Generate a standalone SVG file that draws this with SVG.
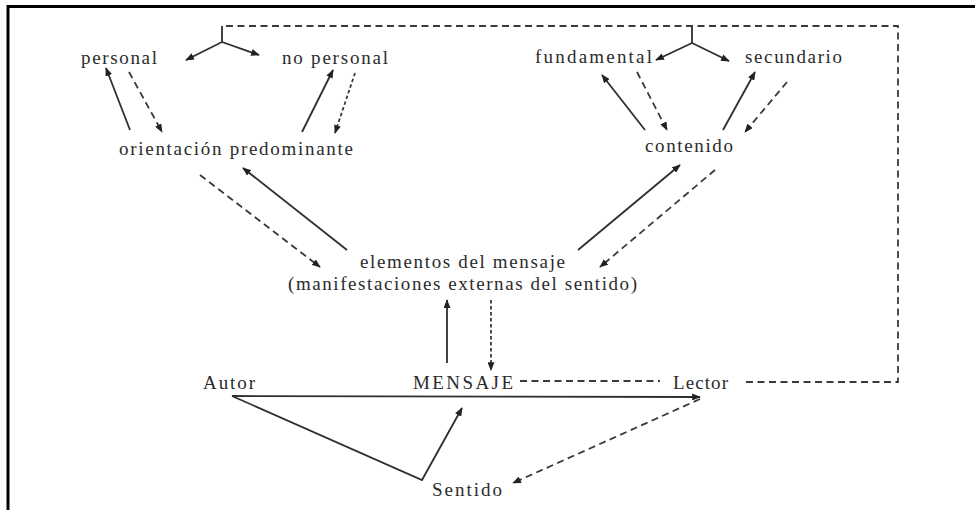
<svg xmlns="http://www.w3.org/2000/svg" width="975" height="510" viewBox="0 0 975 510">
<style>
.t{font-family:"Liberation Serif","DejaVu Serif",serif;font-size:19px;fill:#2b2b2b}
.s{fill:none;stroke:#2e2e2e;stroke-width:1.8}
.d{fill:none;stroke:#3a3a3a;stroke-width:1.8;stroke-dasharray:7 4.5}
.o{fill:none;stroke:#3a3a3a;stroke-width:1.8;stroke-dasharray:3.5 2.5}
.a{marker-end:url(#ah)}
</style>
<defs>
<marker id="ah" viewBox="0 0 10 8" refX="9" refY="4" markerWidth="9" markerHeight="7" orient="auto" markerUnits="userSpaceOnUse">
<path d="M0,0 L10,4 L0,8 z" fill="#222"/>
</marker>
</defs>
<rect width="975" height="510" fill="#fff"/>
<path d="M8,510 V6.5 H975" fill="none" stroke="#000" stroke-width="3"/>
<g id="connectors">
<path class="s" d="M222,26 V42"/>
<path class="s a" d="M222,42 L186,60"/>
<path class="s a" d="M222,42 L259,55"/>
<path class="s" d="M692,27 V43"/>
<path class="s a" d="M692,43 L656,60"/>
<path class="s a" d="M692,43 L729,61"/>
<path class="d" d="M226,26 H898 V382 H743"/>
<path class="d" d="M520,381 H660"/>
<path class="s a" d="M130,130 L106,68"/>
<path class="d a" d="M129,72 L162,132"/>
<path class="s a" d="M302,132 L333,70"/>
<path class="o a" d="M355,73 L335,133"/>
<path class="s a" d="M347,250 L243,168"/>
<path class="d a" d="M200,175 L320,267"/>
<path class="s a" d="M645,130 L602,75"/>
<path class="d a" d="M637,72 L667,130"/>
<path class="s a" d="M723,130 L755,72"/>
<path class="d a" d="M787,82 L745,132"/>
<path class="s a" d="M578,250 L680,165"/>
<path class="d a" d="M715,170 L600,267"/>
<path class="s a" d="M447,363 V300"/>
<path class="o a" d="M491,300 V370"/>
<path class="s a" d="M232,396 L700,397" stroke="#555" stroke-width="2"/>
<path class="s a" d="M232,396 L422,480 L462,408"/>
<path class="d a" d="M700,399 L513,483"/>
</g>
<g id="personal"><text class="t" x="81" y="64" textLength="76" lengthAdjust="spacing">personal</text></g>
<g id="no-personal"><text class="t" x="282" y="64" textLength="106" lengthAdjust="spacing">no personal</text></g>
<g id="fundamental"><text class="t" x="535" y="63" textLength="117" lengthAdjust="spacing">fundamental</text></g>
<g id="secundario"><text class="t" x="745" y="63" textLength="97" lengthAdjust="spacing">secundario</text></g>
<g id="orientacion"><text class="t" x="119" y="155" textLength="234" lengthAdjust="spacing">orientación predominante</text></g>
<g id="contenido"><text class="t" x="645" y="152" textLength="88" lengthAdjust="spacing">contenido</text></g>
<g id="elementos">
<text class="t" x="360" y="268" textLength="205" lengthAdjust="spacing">elementos del mensaje</text>
<text class="t" x="288" y="290" textLength="349" lengthAdjust="spacing">(manifestaciones externas del sentido)</text>
</g>
<g id="autor"><text class="t" x="203" y="389" textLength="52" lengthAdjust="spacing">Autor</text></g>
<g id="mensaje"><text class="t" x="413" y="389" textLength="100" lengthAdjust="spacing">MENSAJE</text></g>
<g id="lector"><text class="t" x="673" y="389" textLength="55" lengthAdjust="spacing">Lector</text></g>
<g id="sentido"><text class="t" x="432" y="496" textLength="70" lengthAdjust="spacing">Sentido</text></g>
</svg>
